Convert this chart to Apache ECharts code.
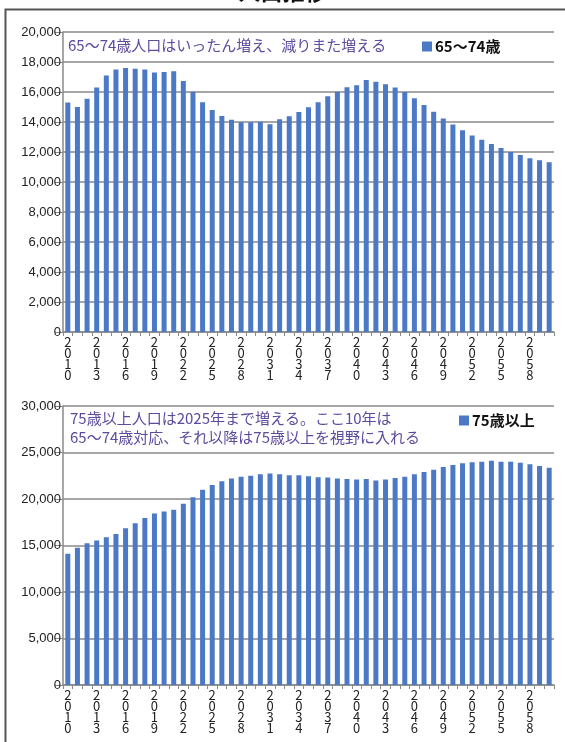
<!DOCTYPE html>
<html>
<head>
<meta charset="utf-8">
<script src="https://cdn.jsdelivr.net/npm/echarts@6/dist/echarts.min.js"></script>
<style>
  html, body { margin: 0; padding: 0; background: #fff; }
  #main { width: 565px; height: 742px; }
</style>
</head>
<body>
<div id="main"></div>
<script>
// 年次 2010〜2060
var years = [];
for (var y = 2010; y <= 2060; y++) years.push(String(y));

// 65〜74歳人口（千人）
var young = [
  15300, 15000, 15550, 16300, 17100, 17500, 17600, 17550, 17500, 17300,
  17330, 17380, 16730, 16020, 15310, 14800, 14400, 14150, 13980, 13980,
  14020, 13850, 14180, 14380, 14670, 14980, 15310, 15710, 16020, 16310,
  16450, 16800, 16690, 16510, 16300, 16000, 15590, 15130, 14680, 14230,
  13840, 13450, 13100, 12820, 12530, 12260, 12000, 11800, 11590, 11450,
  11310
];

// 75歳以上人口（千人）
var old = [
  14100, 14750, 15250, 15550, 15900, 16250, 16850, 17400, 17950, 18450,
  18650, 18850, 19500, 20200, 21000, 21500, 21900, 22200, 22400, 22500,
  22650, 22750, 22650, 22550, 22550, 22450, 22350, 22300, 22200, 22150,
  22100, 22150, 22000, 22100, 22250, 22400, 22650, 22900, 23150, 23450,
  23650, 23850, 23950, 24000, 24100, 24000, 24000, 23900, 23750, 23550,
  23350
];

var yTicks1 = { min: 0, max: 20000, interval: 2000 };
var yTicks2 = { min: 0, max: 30000, interval: 5000 };

var barColor = '#4b79c6';
var gridGray = '#8a8a8a';
var noteColor = '#5e4a9e';
var jp = '"Noto Sans CJK JP", "Noto Sans", sans-serif';

var myChart = echarts.init(document.getElementById('main'));

function xAxisOf(gi) {
  return {
    type: 'category',
    gridIndex: gi,
    data: years,
    axisLine: { lineStyle: { color: gridGray, width: 1.5 } },
    axisTick: { show: true, interval: 0, length: 4, lineStyle: { color: gridGray } },
    axisLabel: {
      interval: 2,
      margin: 5,
      color: '#222',
      fontSize: 13,
      lineHeight: 11,
      fontFamily: jp,
      formatter: function (v) { return v.split('').join('\n'); }
    }
  };
}

function yAxisOf(gi, t) {
  return {
    type: 'value',
    gridIndex: gi,
    min: t.min,
    max: t.max,
    interval: t.interval,
    axisLine: { show: true, lineStyle: { color: gridGray, width: 1.5 } },
    axisTick: { show: true, length: 8, lineStyle: { color: gridGray } },
    axisLabel: {
      margin: 2,
      color: '#222',
      fontSize: 13,
      fontFamily: '"Liberation Sans", sans-serif',
      formatter: function (v) { return v.toLocaleString('en-US'); }
    },
    splitLine: { lineStyle: { color: gridGray, width: 1.5 } }
  };
}

myChart.setOption({
  animation: false,
  backgroundColor: '#fff',
  title: [
    {
      text: '65～74歳人口はいったん増え、減りまた増える',
      left: 68, top: 38, padding: 0,
      textStyle: { color: noteColor, fontSize: 15, fontWeight: 'normal', fontFamily: jp }
    },
    {
      text: '75歳以上人口は2025年まで増える。ここ10年は\n65～74歳対応、それ以降は75歳以上を視野に入れる',
      left: 70, top: 409, padding: 0,
      textStyle: { color: noteColor, fontSize: 15, fontWeight: 'normal', lineHeight: 19, fontFamily: jp }
    }
  ],
  legend: [
    {
      data: ['65～74歳'],
      left: 422, top: 39, padding: 0,
      icon: 'rect', itemWidth: 10, itemHeight: 10, itemGap: 4,
      textStyle: { color: '#111', fontSize: 15, fontWeight: 'bold', fontFamily: jp, padding: [0, 0, 0, -2] }
    },
    {
      data: ['75歳以上'],
      left: 459, top: 413, padding: 0,
      icon: 'rect', itemWidth: 10, itemHeight: 10, itemGap: 4,
      textStyle: { color: '#111', fontSize: 15, fontWeight: 'bold', fontFamily: jp, padding: [0, 0, 0, -2] }
    }
  ],
  grid: [
    { left: 63, top: 32, width: 491, height: 300 },
    { left: 63, top: 406, width: 491, height: 279 }
  ],
  xAxis: [xAxisOf(0), xAxisOf(1)],
  yAxis: [yAxisOf(0, yTicks1), yAxisOf(1, yTicks2)],
  series: [
    {
      name: '65～74歳',
      type: 'bar',
      xAxisIndex: 0, yAxisIndex: 0,
      data: young,
      barWidth: 5,
      itemStyle: { color: barColor }
    },
    {
      name: '75歳以上',
      type: 'bar',
      xAxisIndex: 1, yAxisIndex: 1,
      data: old,
      barWidth: 5,
      itemStyle: { color: barColor }
    }
  ],
  graphic: [
    {
      type: 'rect',
      shape: { x: 5.5, y: 9.5, width: 600, height: 800 },
      style: { fill: 'none', stroke: '#555', lineWidth: 2 },
      silent: true
    },
    {
      type: 'text',
      left: 'center', top: -19,
      style: { text: '人口推移', fill: '#111', font: 'bold 22px ' + jp }
    }
  ]
});
</script>
</body>
</html>
